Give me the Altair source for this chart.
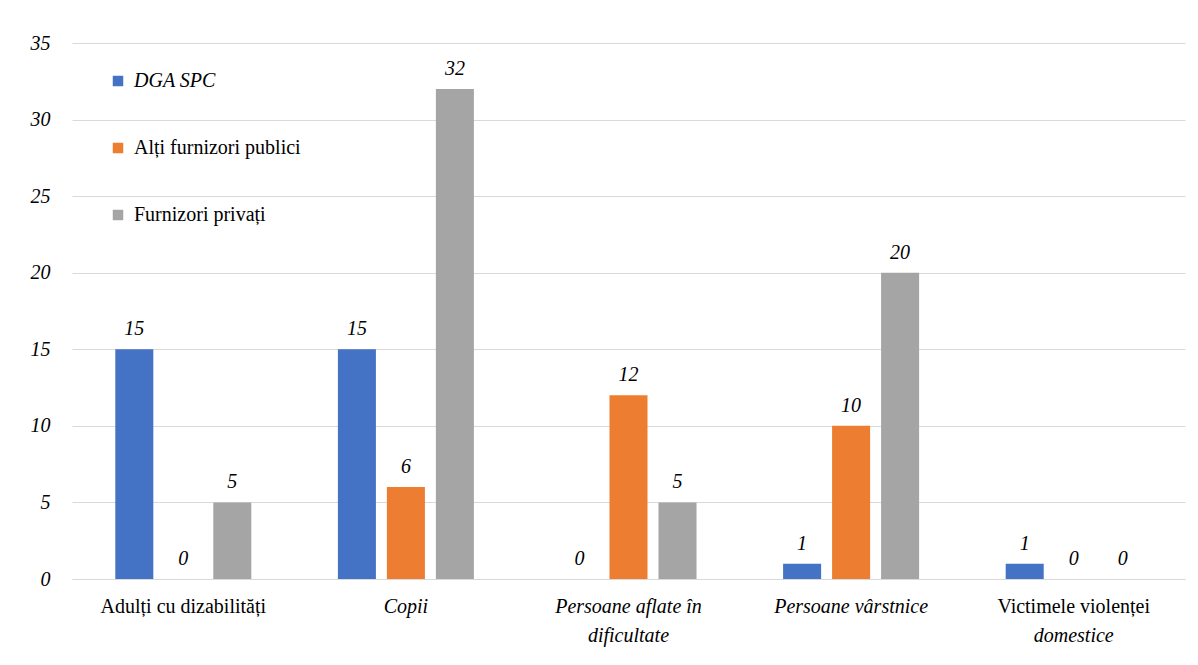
import altair as alt
import pandas as pd

categories = ["Adulți cu dizabilități", "Copii", "Persoane aflate în dificultate",
              "Persoane vârstnice", "Victimele violenței domestice"]
series = ["DGA SPC", "Alți furnizori publici", "Furnizori privați"]
dga = [15, 15, 0, 1, 1]
alti = [0, 6, 12, 10, 0]
priv = [5, 32, 5, 20, 0]
colors = ["#4472C4", "#ED7D31", "#A5A5A5"]

# label lines for the category axis: (category, line, text, italic)
label_lines = [
    (categories[0], 0, "Adulți cu dizabilități", False),
    (categories[1], 0, "Copii", True),
    (categories[2], 0, "Persoane aflate în", True),
    (categories[2], 1, "dificultate", True),
    (categories[3], 0, "Persoane vârstnice", True),
    (categories[4], 0, "Victimele violenței", False),
    (categories[4], 1, "domestice", True),
]

rows = []
for i, c in enumerate(categories):
    for s, vals in zip(series, [dga, alti, priv]):
        rows.append({"cat": c, "serie": s, "val": vals[i]})
df = pd.DataFrame(rows)
lab = pd.DataFrame(label_lines, columns=["cat", "line", "text", "italic"])

FONT = "Liberation Serif, DejaVu Serif, serif"
W, H = 1113, 536

xscale = alt.Scale(domain=categories, paddingInner=0.389, paddingOuter=0.1945)
xoff = alt.Scale(domain=series, paddingInner=0.224, paddingOuter=0)
yscale = alt.Scale(domain=[0, 35], nice=False)

base = alt.Chart(df).encode(
    x=alt.X("cat:N", scale=xscale, sort=categories,
            axis=alt.Axis(title=None, labels=False, ticks=False, domain=True,
                          domainColor="#d9d9d9", grid=False)),
    xOffset=alt.XOffset("serie:N", scale=xoff, sort=series),
)

bars = base.mark_bar().encode(
    y=alt.Y("val:Q", scale=yscale,
            axis=alt.Axis(title=None, values=list(range(0, 36, 5)), domain=False,
                          ticks=False, gridColor="#d9d9d9", labelFont=FONT,
                          labelFontSize=20, labelFontStyle="italic", labelColor="#000",
                          labelPadding=22)),
    color=alt.Color("serie:N", scale=alt.Scale(domain=series, range=colors), sort=series,
                    legend=alt.Legend(title=None, orient="none", legendX=36, legendY=28,
                                      symbolType="square", symbolSize=110,
                                      symbolStrokeWidth=0, labelFont=FONT,
                                      labelFontSize=20, labelColor="#000",
                                      labelOffset=6, rowPadding=47, padding=0,
                                      labelLimit=400,
                                      labelFontStyle={"expr": "datum.value == 'DGA SPC' ? 'italic' : 'normal'"})),
)

texts = base.mark_text(font=FONT, fontSize=20, fontStyle="italic", baseline="bottom",
                       dy=-10, color="#000").encode(
    y=alt.Y("val:Q", scale=yscale),
    text=alt.Text("val:Q"),
)

def xlabels(italic, line):
    d = lab[(lab["italic"] == italic) & (lab["line"] == line)]
    return alt.Chart(d).mark_text(font=FONT, fontSize=20, color="#000",
                                  fontStyle="italic" if italic else "normal",
                                  baseline="middle").encode(
        x=alt.X("cat:N", scale=xscale, sort=categories),
        y=alt.value(564 + 29 * line),
        text="text:N",
    )

chart = alt.layer(bars, texts, xlabels(False, 0), xlabels(True, 0),
                  xlabels(True, 1)).properties(
    width=W, height=H,
    autosize=alt.AutoSizeParams(type="none"),
    padding={"left": 64, "top": 35, "right": 5, "bottom": 80},
).configure(background="white", font=FONT, view={"stroke": None})

chart.save("out.html", embed_options={"renderer": "svg", "actions": False})
